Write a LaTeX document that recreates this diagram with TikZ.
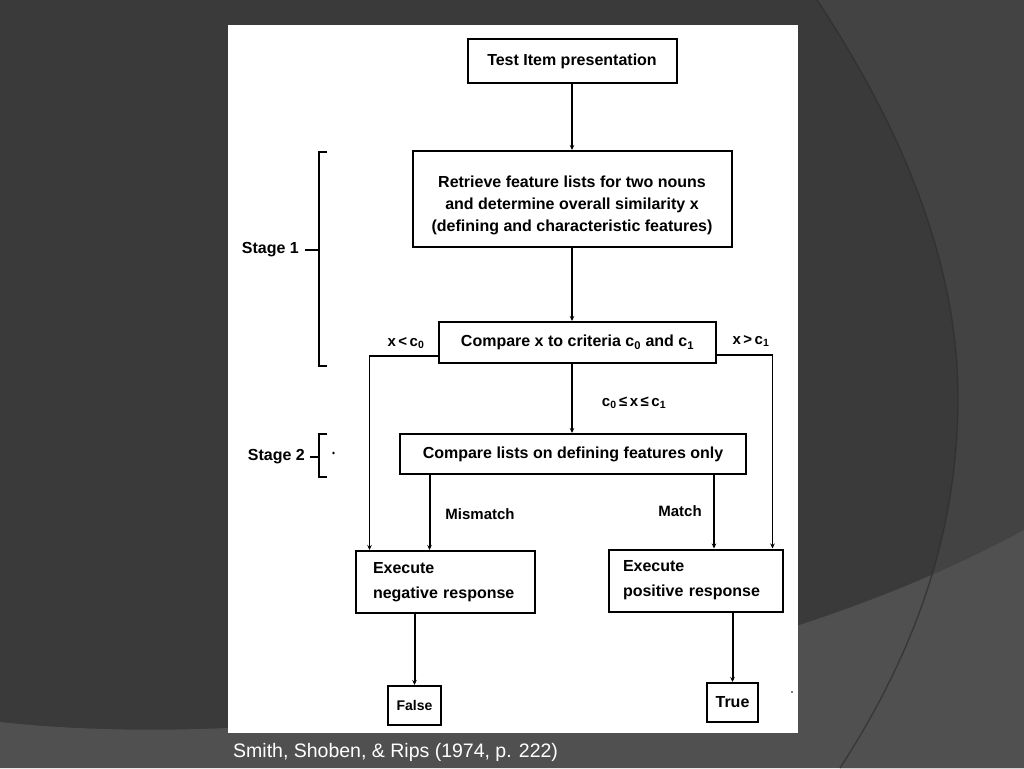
\documentclass[tikz,border=0pt]{standalone}
\usepackage{fontspec}
\setmainfont{Liberation Sans}
\usetikzlibrary{arrows.meta,calc}
\definecolor{bgdark}{HTML}{3A3A3A}
\definecolor{bgright}{HTML}{434343}
\definecolor{bgband}{HTML}{505050}
\definecolor{arcline}{HTML}{2E2E2E}
\begin{document}
\begin{tikzpicture}[x=1pt,y=-1pt,
  box/.style={draw=black, line width=2pt, fill=white, inner sep=0pt, align=center,
    font=\bfseries\fontsize{16}{22}\selectfont},
  resp/.style={box, align=left, font=\bfseries\fontsize{16}{25}\selectfont, minimum height=62pt},
  lbl/.style={font=\bfseries\fontsize{15}{18}\selectfont, inner sep=0pt},
  stagelbl/.style={font=\bfseries\fontsize{16}{18}\selectfont, inner sep=0pt},
  arr/.style={line width=2pt, -{Stealth[length=5pt,width=4.5pt]}},
  side/.style={line width=1.6pt, -{Stealth[length=5pt,width=4.5pt]}},
  brack/.style={line width=1.8pt}]
% background slide
\useasboundingbox (0,0) rectangle (1024,768);
\fill[bgdark] (0,0) rectangle (1024,768);
\fill[bgright] (817,0) .. controls (890,110) and (958,250) .. (958,397)
   .. controls (958,540) and (910,660) .. (840,768) -- (1024,768) -- (1024,0) -- cycle;
\fill[bgband] (0,722) .. controls (300,755) and (750,680) .. (1024,530) -- (1024,768) -- (0,768) -- cycle;
\draw[arcline, line width=1.4pt, opacity=0.7] (817,0) .. controls (890,110) and (958,250) .. (958,397)
   .. controls (958,540) and (910,660) .. (840,768);
\fill[white] (228,25) rectangle (798,733);
% nodes
\node[box, minimum width=209pt, minimum height=44pt] (test) at (572,61) {Test Item presentation};
\node[box, minimum width=319pt, minimum height=96pt] (retr) at (572,199)
  {\rule{0pt}{25pt}Retrieve feature lists for two nouns\\and determine overall similarity x\\(defining and characteristic features)};
\node[box, minimum width=277pt, minimum height=41pt] (cmpx) at (577.5,342.5)
  {Compare x to criteria c\textsubscript{0} and c\textsubscript{1}};
\node[box, minimum width=346pt, minimum height=40pt] (cmpl) at (573,454)
  {Compare lists on defining features only};
\node[resp, text width=145pt, inner xsep=17pt] (neg) at (445.5,582) {Execute\\negative response};
\node[resp, text width=146pt, inner xsep=14pt] (pos) at (696,580.5) {Execute\\positive response};
\node[box, minimum width=53pt, minimum height=39pt, font=\bfseries\fontsize{14}{16}\selectfont] (false) at (414.5,705.5) {False};
\node[box, minimum width=51pt, minimum height=39pt, font=\bfseries\fontsize{16}{18}\selectfont] (true) at (732.5,702.5) {True};
% connectors
\draw[arr] (test.south) -- (retr.north);
\draw[arr] (retr.south) -- (retr.south |- cmpx.north);
\draw[arr] (retr.south |- cmpx.south) -- (retr.south |- cmpl.north);
\draw[side] ([yshift=-13.5pt]cmpx.west) -| ([xshift=14.5pt]neg.north west);
\draw[side] ([yshift=-12.5pt]cmpx.east) -| ([xshift=-11.5pt]pos.north east);
\draw[arr] ([xshift=74.5pt]neg.north west |- cmpl.south) -- ([xshift=74.5pt]neg.north west);
\draw[arr] ([xshift=106pt]pos.north west |- cmpl.south) -- ([xshift=106pt]pos.north west);
\draw[arr] (neg.south -| false.north) -- (false.north);
\draw[arr] (pos.south -| true.north) -- (true.north);
% branch labels
\node[lbl] (lless) at (406,343) {x\,<\,c\textsubscript{0}};
\node[lbl] (lmore) at (751,341) {x\,>\,c\textsubscript{1}};
\node[lbl] (lmid) at (634,403) {c\textsubscript{0}\,≤\,x\,≤\,c\textsubscript{1}};
\node[lbl] (lmis) at (480,514) {Mismatch};
\node[lbl] (lmat) at (680,511) {Match};
% stages
\coordinate (s1top) at (319,152);
\coordinate (s1bot) at (319,366);
\coordinate (s1mid) at (319,250);
\draw[brack] ([xshift=8pt]s1top) -- (s1top) -- (s1bot) -- ([xshift=8pt]s1bot);
\node[stagelbl, anchor=east] (stage1) at (299,250) {Stage 1};
\draw[brack] ([xshift=6pt]stage1.east) -- (s1mid);
\coordinate (s2top) at (319,434);
\coordinate (s2bot) at (319,477);
\coordinate (s2mid) at (319,457);
\draw[brack] ([xshift=8pt]s2top) -- (s2top) -- (s2bot) -- ([xshift=8pt]s2bot);
\node[stagelbl, anchor=east] (stage2) at (305,457) {Stage 2};
\draw[brack] ([xshift=5pt]stage2.east) -- (s2mid);
\fill (333.5,453) circle (1.3pt);
\fill (792,692) circle (0.9pt);
% caption
\node[anchor=base west, text=white, font=\fontsize{19.5}{22}\selectfont, inner sep=0pt] (cap) at (233,757)
  {Smith, Shoben, \& Rips (1974, p. 222)};
\end{tikzpicture}
\end{document}
